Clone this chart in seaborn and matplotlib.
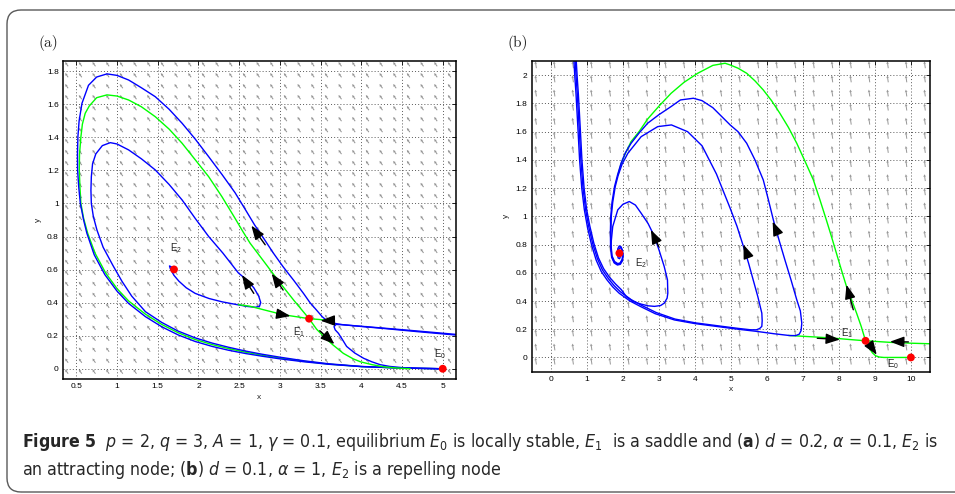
import numpy as np
import matplotlib
matplotlib.use("Agg")
import matplotlib.pyplot as plt
import seaborn as sns
from matplotlib import font_manager as fm
from matplotlib.patches import FancyBboxPatch
from matplotlib.transforms import IdentityTransform

# ---------------- data: panel (a) ----------------
a_outer = [(5.16,0.204),(4.7,0.224),(4.27,0.244),(3.95,0.258),(3.78,0.266),(3.68,0.274),(3.62,0.283),
           (3.57,0.294),(3.52,0.315),(3.45,0.355),(3.37,0.40),(3.29,0.456),(3.17,0.535),(3.04,0.617),
           (2.92,0.70),(2.80,0.79),(2.69,0.87),(2.58,0.96),(2.45,1.065),(2.29,1.175),(2.126,1.283),
           (1.96,1.39),(1.80,1.485),(1.64,1.57),(1.47,1.646),(1.30,1.70),(1.143,1.747),(1.0,1.775),
           (0.877,1.784),(0.75,1.765),(0.65,1.715),(0.57,1.606),(0.535,1.50),(0.52,1.404),(0.515,1.30),
           (0.516,1.203),(0.53,1.10),(0.55,1.0),(0.59,0.90),(0.63,0.82),(0.72,0.69),(0.85,0.57),
           (1.0,0.47),(1.143,0.395),(1.35,0.315),(1.55,0.254),(1.75,0.205),(1.96,0.165),(2.17,0.135),
           (2.37,0.112),(2.58,0.092),(2.78,0.076),(3.0,0.060),(3.3,0.042),(3.6,0.027),(4.0,0.013),
           (4.5,0.004),(5.0,0.0)]
a_to_e0 = [(5.16,0.208),(4.7,0.228),(4.27,0.246),(3.95,0.259),(3.78,0.266),(3.69,0.268),(3.665,0.255),
           (3.68,0.235),(3.72,0.214),(3.77,0.175),(3.82,0.135),(3.92,0.095),(4.03,0.063),(4.13,0.042),
           (4.23,0.025),(4.35,0.014),(4.5,0.007),(4.7,0.003),(5.0,0.0)]
a_inner = [(1.70,0.601),(1.665,0.617),(1.645,0.622),(1.655,0.605),(1.70,0.565),(1.76,0.53),(1.85,0.49),
           (1.96,0.456),(2.13,0.425),(2.29,0.405),(2.45,0.39),(2.60,0.377),(2.70,0.372),(2.75,0.378),
           (2.765,0.40),(2.74,0.44),(2.68,0.49),(2.60,0.535),(2.49,0.58),(2.30,0.70),(2.126,0.80),
           (1.96,0.91),(1.80,1.021),(1.64,1.115),(1.47,1.203),(1.30,1.27),(1.143,1.324),(1.0,1.36),
           (0.918,1.368),(0.82,1.35),(0.74,1.30),(0.70,1.24),(0.685,1.162),(0.68,1.08),(0.685,1.0),
           (0.71,0.92),(0.754,0.839),(0.83,0.735),(0.95,0.625),(1.06,0.53),(1.18,0.44),(1.35,0.345),
           (1.55,0.28),(1.75,0.228),(1.96,0.187),(2.17,0.155),(2.37,0.13),(2.58,0.107),(2.78,0.088),
           (3.0,0.07),(3.3,0.048),(3.6,0.03),(4.0,0.014),(4.5,0.004),(5.0,0.0)]
a_green_up = [(3.359,0.303),(3.17,0.415),(2.99,0.527),(2.81,0.645),(2.634,0.76),(2.54,0.835),(2.45,0.91),
              (2.29,1.04),(2.126,1.162),(1.96,1.265),(1.80,1.364),(1.64,1.45),(1.47,1.525),(1.30,1.585),
              (1.143,1.626),(1.0,1.65),(0.877,1.657),(0.75,1.64),(0.66,1.59),(0.61,1.546),(0.575,1.48),
              (0.557,1.404),(0.54,1.30),(0.537,1.203),(0.545,1.10),(0.557,1.0),(0.59,0.91),(0.64,0.82),
              (0.73,0.70),(0.86,0.58),(1.0,0.485),(1.143,0.41),(1.35,0.33),(1.55,0.268),(1.75,0.218),
              (1.96,0.177),(2.17,0.146),(2.37,0.122),(2.58,0.10),(2.78,0.082),(3.0,0.065),(3.3,0.045),
              (3.6,0.028),(4.0,0.013),(4.5,0.004),(5.0,0.0)]
a_green_down = [(3.359,0.303),(3.45,0.24),(3.55,0.19),(3.65,0.145),(3.78,0.093),(3.90,0.06),(3.99,0.042),
                (4.13,0.025),(4.27,0.012),(4.45,0.004),(4.6,0.0)]
a_green_stable = [(2.49,0.388),(2.634,0.378),(2.84,0.352),(3.04,0.327),(3.20,0.315),(3.359,0.303),
                  (3.51,0.297),(3.60,0.29)]
a_arrows = [((2.82,0.75),(2.65,0.866)), ((3.04,0.476),(2.90,0.575)), ((2.96,0.333),(3.13,0.319)),
            ((3.66,0.292),(3.50,0.291)), ((3.49,0.23),(3.67,0.149)), ((2.68,0.456),(2.535,0.567))]
a_eq_x = [1.70, 3.359, 5.0]
a_eq_y = [0.601, 0.303, 0.0]
a_labels = [("E", "2", 1.72, 0.73), ("E", "1", 3.23, 0.224), ("E", "0", 4.97, 0.09)]
a_xticks = [0.5, 1, 1.5, 2, 2.5, 3, 3.5, 4, 4.5, 5]
a_xticklabels = ["0.5", "1", "1.5", "2", "2.5", "3", "3.5", "4", "4.5", "5"]
a_yticks = [0, 0.2, 0.4, 0.6, 0.8, 1.0, 1.2, 1.4, 1.6, 1.8]
a_yticklabels = ["0", "0.2", "0.4", "0.6", "0.8", "1", "1.2", "1.4", "1.6", "1.8"]

# ---------------- data: panel (b) ----------------
b_big = [(0.64,2.11),(0.67,1.98),(0.70,1.87),(0.75,1.64),(0.80,1.40),(0.86,1.20),(0.93,1.05),(1.02,0.92),
         (1.13,0.80),(1.26,0.69),(1.40,0.61),(1.56,0.55),(1.72,0.50),(1.90,0.455),(2.2,0.40),(2.5,0.36),
         (2.9,0.31),(3.43,0.266),(4.0,0.24),(4.63,0.219),(5.2,0.20),(5.71,0.185),(6.2,0.168),(6.64,0.155),
         (6.80,0.155),(6.90,0.165),(6.95,0.19),(6.97,0.243),(6.93,0.33),(6.83,0.409),(6.67,0.55),(6.50,0.692),
         (6.34,0.83),(6.18,0.975),(6.04,1.12),(5.90,1.258),(5.67,1.40),(5.44,1.518),(5.2,1.60),(4.98,1.648),
         (4.5,1.77),(4.2,1.82),(3.96,1.837),(3.6,1.825),(3.34,1.778),(3.0,1.72),(2.69,1.66),(2.45,1.59),
         (2.23,1.518),(2.07,1.45),(1.95,1.376),(1.85,1.29),(1.77,1.211),(1.70,1.10),(1.665,1.0),(1.655,0.89),
         (1.66,0.786),(1.69,0.71),(1.76,0.67),(1.85,0.655),(1.93,0.66),(1.99,0.685),(2.01,0.72),(1.99,0.76),
         (1.95,0.785),(1.90,0.79),(1.86,0.77),(1.85,0.735),(1.87,0.705),(1.91,0.70),(1.94,0.72),(1.93,0.75),
         (1.905,0.745)]
b_mid = [(0.675,2.11),(0.705,1.98),(0.735,1.87),(0.785,1.64),(0.835,1.40),(0.895,1.20),(0.965,1.05),
         (1.055,0.925),(1.165,0.805),(1.295,0.70),(1.435,0.62),(1.595,0.56),(1.755,0.51),(1.935,0.465),
         (2.23,0.41),(2.53,0.368),(2.93,0.318),(3.45,0.272),(4.02,0.245),(4.65,0.224),(5.2,0.206),
         (5.55,0.196),(5.71,0.196),(5.80,0.205),(5.86,0.22),(5.87,0.26),(5.86,0.314),(5.75,0.43),(5.62,0.55),
         (5.49,0.67),(5.35,0.786),(5.17,0.93),(4.98,1.058),(4.6,1.30),(4.2,1.50),(3.8,1.60),(3.35,1.648),
         (2.97,1.636),(2.51,1.565),(2.14,1.447),(1.98,1.37),(1.87,1.29),(1.79,1.211),(1.72,1.10),
         (1.68,1.0),(1.67,0.89),(1.675,0.79),(1.70,0.72),(1.77,0.68),(1.86,0.665),(1.93,0.67),(1.98,0.695),
         (1.995,0.725),(1.975,0.765),(1.93,0.78),(1.88,0.765)]
b_small = [(0.705,2.11),(0.735,1.98),(0.765,1.87),(0.815,1.64),(0.865,1.40),(0.925,1.20),(0.995,1.05),
           (1.085,0.93),(1.195,0.81),(1.325,0.705),(1.465,0.63),(1.625,0.57),(1.80,0.52),(1.96,0.48),
           (2.10,0.43),(2.30,0.395),(2.51,0.378),(2.70,0.366),(2.88,0.362),(3.05,0.368),(3.15,0.385),
           (3.23,0.42),(3.25,0.456),(3.24,0.55),(3.15,0.644),(3.02,0.75),(2.88,0.857),(2.70,0.95),
           (2.51,1.022),(2.35,1.08),(2.18,1.105),(2.00,1.085),(1.86,1.046),(1.72,0.928),(1.67,0.80),
           (1.69,0.72),(1.75,0.68),(1.84,0.66),(1.92,0.665),(1.98,0.69)]
b_green_loop = [(8.74,0.118),(8.62,0.22),(8.49,0.315),(8.35,0.41),(8.21,0.504),(8.07,0.62),(7.93,0.74),
                (7.79,0.86),(7.65,0.976),(7.47,1.12),(7.29,1.259),(7.06,1.39),(6.83,1.518),(6.60,1.63),
                (6.36,1.731),(6.13,1.82),(5.90,1.896),(5.67,1.96),(5.44,2.014),(5.20,2.05),(4.98,2.073),
                (4.84,2.085),(4.50,2.07),(4.08,2.014),(3.70,1.95),(3.34,1.872),(3.00,1.78),(2.69,1.69),
                (2.45,1.60),(2.23,1.53),(2.06,1.44),(1.95,1.37),(1.86,1.29)]
b_green_line = [(6.60,0.156),(7.0,0.150),(7.75,0.139),(8.30,0.127),(8.74,0.118),(9.42,0.107),(10.0,0.101),
                (10.53,0.097)]
b_green_down = [(8.74,0.118),(8.80,0.09),(8.86,0.06),(8.93,0.033),(9.02,0.012),(9.12,0.003),(9.25,0.0),
                (10.0,0.0)]
b_arrows = [((3.0,0.786),(2.78,0.904)), ((5.48,0.715),(5.35,0.80)), ((6.30,0.88),(6.16,0.963)),
            ((8.40,0.338),(8.21,0.515)), ((7.40,0.136),(8.03,0.127)), ((9.93,0.11),(9.42,0.112)),
            ((8.86,0.09),(9.05,0.019))]
b_eq_x = [1.905, 8.74, 10.0]
b_eq_y = [0.739, 0.118, 0.0]
b_labels = [("E", "2", 2.5, 0.67), ("E", "1", 8.22, 0.17), ("E", "0", 9.51, -0.05)]
b_xticks = [0, 1, 2, 3, 4, 5, 6, 7, 8, 9, 10]
b_xticklabels = ["0", "1", "2", "3", "4", "5", "6", "7", "8", "9", "10"]
b_yticks = [0, 0.2, 0.4, 0.6, 0.8, 1.0, 1.2, 1.4, 1.6, 1.8, 2.0]
b_yticklabels = ["0", "0.2", "0.4", "0.6", "0.8", "1", "1.2", "1.4", "1.6", "1.8", "2"]

caption1 = (r"$\mathbf{Figure\ 5}$  $p$ = 2, $q$ = 3, $A$ = 1, $\gamma$ = 0.1, equilibrium $E_0$ is locally "
            r"stable, $E_1$  is a saddle and ($\mathbf{a}$) $d$ = 0.2, $\alpha$ = 0.1, $E_2$ is")
caption2 = r"an attracting node; ($\mathbf{b}$) $d$ = 0.1, $\alpha$ = 1, $E_2$ is a repelling node"

# ---------------- style ----------------
sns.set_style("white")
plt.rcParams['font.family'] = ['Liberation Sans', 'DejaVu Sans']

cap_pat = None
for pat in ["Liberation Sans Narrow", "DejaVu Sans:stretch=condensed"]:
    try:
        path = fm.findfont(fm.FontProperties(pat), fallback_to_default=False)
        if "Narrow" in path or "Condensed" in path:
            cap_pat = pat
            break
    except Exception:
        pass
if cap_pat is None:
    cap_pat = "Roboto"
plt.rcParams['mathtext.fontset'] = 'custom'
plt.rcParams['mathtext.rm'] = cap_pat
plt.rcParams['mathtext.it'] = cap_pat + ':style=italic'
plt.rcParams['mathtext.bf'] = cap_pat + ':weight=bold'
cap_prop = fm.FontProperties(cap_pat)

BLUE = (0, 0, 1)
GREEN = (0, 1, 0)
RED = (1, 0, 0)

fig = plt.figure(figsize=(9.55, 4.94), dpi=100)

frame = FancyBboxPatch((7, 2), 1000, 482, boxstyle="round,pad=0,rounding_size=14",
                       transform=IdentityTransform(), fill=False, edgecolor='0.35', lw=1.0)
fig.add_artist(frame)

axA = fig.add_axes([63/955, 1-379/494, (456-63)/955, (379-61)/494])
axB = fig.add_axes([531.7/955, 1-371.7/494, (930-531.7)/955, (371.7-61)/494])


def draw(ax, pts, color, lw=1.0, z=2):
    xs = [p[0] for p in pts]
    ys = [p[1] for p in pts]
    sns.lineplot(x=xs, y=ys, sort=False, estimator=None, color=color, lw=lw, ax=ax, zorder=z)


def arrows(ax, arr):
    for tail, tip in arr:
        ax.annotate('', xy=tip, xytext=tail,
                    arrowprops=dict(arrowstyle='-|>,head_length=0.85,head_width=0.32', color='k', lw=1.0,
                                    mutation_scale=10, shrinkA=0, shrinkB=0), zorder=6)


def field(ax, xr, yr, nx, ny, u, v, col):
    X, Y = np.meshgrid(np.linspace(xr[0], xr[1], nx), np.linspace(yr[0], yr[1], ny))
    U = np.full(X.shape, u)
    V = np.full(X.shape, v)
    ax.quiver(X, Y, U, V, color=col, angles='uv', scale_units='dots', scale=1, units='dots',
              width=1.0, headwidth=2.8, headlength=2.6, headaxislength=2.3, zorder=1)


def setup(ax, xlim, ylim, xt, xtl, yt, ytl):
    ax.set_xlim(*xlim)
    ax.set_ylim(*ylim)
    ax.set_xticks(xt)
    ax.set_xticklabels(xtl)
    ax.set_yticks(yt)
    ax.set_yticklabels(ytl)
    ax.tick_params(direction='in', top=True, right=True, length=3, width=0.6, labelsize=6, pad=3,
                   colors='k')
    ax.grid(True, linestyle=(0, (1, 2.2)), color='0.35', lw=0.7)
    for s in ax.spines.values():
        s.set_visible(True)
        s.set_color('k')
        s.set_linewidth(1.1)
    ax.set_xlabel('x', fontsize=6, labelpad=2.5)
    ax.set_ylabel('y', fontsize=6, labelpad=4)
    ax.set_axisbelow(True)


# ---------------- panel (a) ----------------
field(axA, (0.40, 5.10), (-0.03, 1.83), 29, 29, -3.0, 4.2, '0.58')
draw(axA, a_green_up, GREEN, 1.0)
draw(axA, a_outer, BLUE, 1.0)
draw(axA, a_to_e0, BLUE, 1.0)
draw(axA, a_inner, BLUE, 1.0)
draw(axA, a_green_down, GREEN, 1.0)
draw(axA, a_green_stable, GREEN, 1.0)
arrows(axA, a_arrows)
sns.scatterplot(x=a_eq_x, y=a_eq_y, color=RED, s=32, edgecolor='none', ax=axA, zorder=7)
for e, sub, x, y in a_labels:
    axA.text(x, y, r"$\mathregular{%s_%s}$" % (e, sub), fontsize=7, ha='center', va='center')
setup(axA, (0.337, 5.163), (-0.062, 1.862), a_xticks, a_xticklabels, a_yticks, a_yticklabels)

# ---------------- panel (b) ----------------
field(axB, (-0.40, 10.40), (-0.05, 2.05), 22, 22, -1.0, 6.8, '0.6')
draw(axB, b_green_loop, GREEN, 1.0)
draw(axB, b_green_line, GREEN, 1.0)
draw(axB, b_green_down, GREEN, 1.0)
draw(axB, b_big, BLUE, 1.0)
draw(axB, b_mid, BLUE, 1.0)
draw(axB, b_small, BLUE, 1.0)
arrows(axB, b_arrows)
sns.scatterplot(x=b_eq_x, y=b_eq_y, color=RED, s=32, edgecolor='none', ax=axB, zorder=7)
for e, sub, x, y in b_labels:
    axB.text(x, y, r"$\mathregular{%s_%s}$" % (e, sub), fontsize=7, ha='center', va='center')
setup(axB, (-0.53, 10.53), (-0.101, 2.101), b_xticks, b_xticklabels, b_yticks, b_yticklabels)

# panel letters
fig.text(38/955, 1-43/494, '(a)', family='cmr10', fontsize=11, va='center', ha='left')
fig.text(507/955, 1-43/494, '(b)', family='cmr10', fontsize=11, va='center', ha='left')

# caption
t1 = fig.text(22/955, 1-442/494, caption1, fontsize=12, va='center', ha='left', fontproperties=cap_prop,
              math_fontfamily='custom')
t2 = fig.text(22/955, 1-470/494, caption2, fontsize=12, va='center', ha='left', fontproperties=cap_prop,
              math_fontfamily='custom')
t1.set_fontsize(12)
t2.set_fontsize(12)
fig.canvas.draw()
r = fig.canvas.get_renderer()
w = t1.get_window_extent(r).width
fs = 12 * 915.0 / w
t1.set_fontsize(fs)
t2.set_fontsize(fs)

fig.savefig('out.png', dpi=100)
